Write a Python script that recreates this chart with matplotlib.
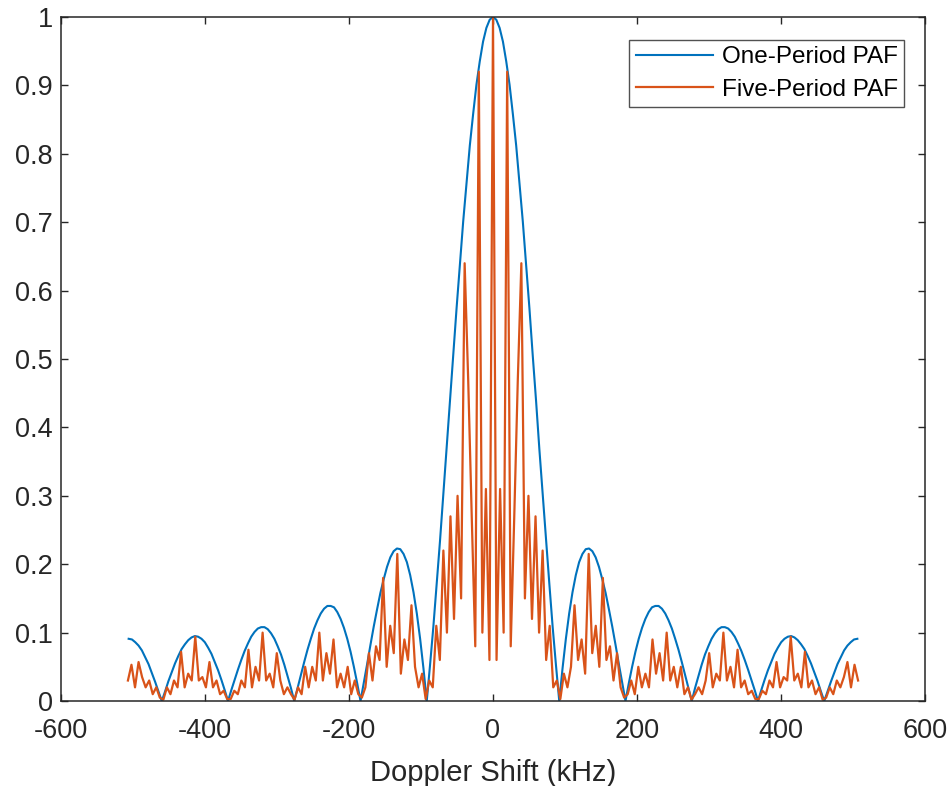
import matplotlib
matplotlib.use("Agg")
import matplotlib.pyplot as plt
import numpy as np

plt.rcParams['font.family'] = ['Liberation Sans', 'DejaVu Sans']
plt.rcParams['axes.unicode_minus'] = False

# one-period PAF, read at 4.6 kHz steps from 0 to 506 kHz (curve is symmetric)
one_half = [1.000, 0.996, 0.984, 0.964, 0.935, 0.901, 0.858, 0.812, 0.757, 0.701,
            0.637, 0.574, 0.505, 0.439, 0.368, 0.302, 0.234, 0.172, 0.109, 0.053,
            0.000, 0.048, 0.091, 0.128, 0.159, 0.184, 0.203, 0.215, 0.222, 0.223,
            0.219, 0.210, 0.196, 0.178, 0.158, 0.134, 0.109, 0.082, 0.054, 0.027,
            0.000, 0.026, 0.050, 0.072, 0.091, 0.107, 0.120, 0.130, 0.137, 0.139,
            0.139, 0.135, 0.128, 0.118, 0.106, 0.091, 0.075, 0.057, 0.038, 0.019,
            0.000, 0.019, 0.036, 0.053, 0.068, 0.080, 0.091, 0.099, 0.105, 0.108,
            0.108, 0.106, 0.101, 0.094, 0.084, 0.073, 0.060, 0.046, 0.031, 0.016,
            0.000, 0.016, 0.031, 0.045, 0.057, 0.069, 0.078, 0.086, 0.091, 0.094,
            0.095, 0.093, 0.089, 0.083, 0.076, 0.066, 0.055, 0.042, 0.029, 0.014,
            0.000, 0.014, 0.028, 0.041, 0.054, 0.064, 0.074, 0.081, 0.086, 0.090,
            0.091]

# five-period PAF, read at ~4.93 kHz steps from 0 to 507 kHz
five_half = [1.00, 0.06, 0.31, 0.10, 0.92, 0.08, 0.27, 0.47, 0.64, 0.15,
             0.30, 0.12, 0.27, 0.10, 0.22, 0.06, 0.11, 0.02, 0.03, 0.003,
             0.04, 0.02, 0.05, 0.14, 0.06, 0.09, 0.04, 0.215, 0.07, 0.11,
             0.05, 0.18, 0.06, 0.08, 0.03, 0.07, 0.02, 0.005, 0.01, 0.03,
             0.01, 0.05, 0.02, 0.04, 0.02, 0.09, 0.04, 0.07, 0.03, 0.10,
             0.03, 0.05, 0.02, 0.05, 0.01, 0.02, 0.002, 0.01, 0.02, 0.01,
             0.03, 0.07, 0.02, 0.04, 0.03, 0.10, 0.03, 0.05, 0.02, 0.075,
             0.02, 0.03, 0.01, 0.015, 0.003, 0.003, 0.015, 0.01, 0.03, 0.02,
             0.057, 0.02, 0.035, 0.03, 0.094, 0.03, 0.04, 0.02, 0.072, 0.02,
             0.03, 0.01, 0.02, 0.002, 0.005, 0.02, 0.01, 0.03, 0.02, 0.035,
             0.057, 0.02, 0.053, 0.03]

one_y = np.array(one_half[::-1] + one_half[1:])
five_y = np.array(five_half[::-1] + five_half[1:])
one_x = np.linspace(-506, 506, len(one_y))
five_x = np.linspace(-507, 507, len(five_y))

xticks = [-600, -400, -200, 0, 200, 400, 600]
yticks = [0, 0.1, 0.2, 0.3, 0.4, 0.5, 0.6, 0.7, 0.8, 0.9, 1]
ylabels = ['0', '0.1', '0.2', '0.3', '0.4', '0.5', '0.6', '0.7', '0.8', '0.9', '1']

fig = plt.figure(figsize=(9.51, 7.86), dpi=100)
ax = fig.add_axes([0.0641, 0.1081, 0.9086, 0.8703])

ax.plot(one_x, one_y, color='#0072BD', lw=1.5, label='One-Period PAF')
ax.plot(five_x, five_y, color='#D95319', lw=1.6, label='Five-Period PAF')

ax.set_xlim(-600, 600)
ax.set_ylim(0, 1)
ax.set_xticks(xticks)
ax.set_yticks(yticks)
ax.set_yticklabels(ylabels)
ax.tick_params(direction='in', top=True, right=True, length=5, width=1,
               labelsize=19.5, colors='#262626')
ax.tick_params(axis='x', pad=12)
ax.tick_params(axis='y', pad=6)
for s in ax.spines.values():
    s.set_color('#262626')
    s.set_linewidth(1.1)
ax.set_xlabel('Doppler Shift (kHz)', fontsize=21, color='#262626', labelpad=11)

leg = ax.legend(loc='upper right', bbox_to_anchor=(0.9757, 0.9664), fontsize=17.5,
                frameon=True, fancybox=False, handlelength=3.2, handletextpad=0.35,
                borderpad=0.25, labelspacing=0.45, borderaxespad=0)
leg.get_frame().set_edgecolor('#262626')
leg.get_frame().set_linewidth(1.0)

fig.savefig('out.png', dpi=100)
